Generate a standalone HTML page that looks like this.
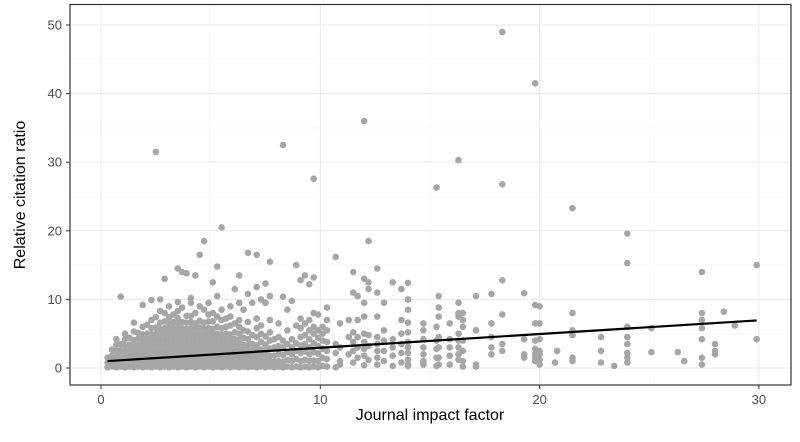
<!DOCTYPE html>
<html><head><meta charset="utf-8"><style>
body{margin:0;background:#fff;}
svg{display:block;font-family:"Liberation Sans",sans-serif;}
</style></head><body>
<svg id="chart" width="800" height="442" viewBox="0 0 800 442">
<rect x="0" y="0" width="800" height="442" fill="#fff"/>
<g id="grid"></g>
<g id="pts"></g>
<g id="fit"></g>
<rect x="70" y="4.5" width="721" height="380.5" fill="none" stroke="#333" stroke-width="1.2"/>
<g id="axes"></g>
<text x="430" y="420" text-anchor="middle" font-size="16" fill="#000">Journal impact factor</text>
<text transform="translate(25,195) rotate(-90)" text-anchor="middle" font-size="16" fill="#000">Relative citation ratio</text>
</svg>
<script>
const xTicks=[0,10,20,30];
const yTicks=[0,10,20,30,40,50];
const xMinor=[5,15,25];
const yMinor=[5,15,25,35,45];
const fitIntercept=0.95, fitSlope=0.2, fitRange=[0.3,29.9];
const impactFactor=[];
const citationRatio=[];
const cols=[
[0.3,[0.1,0.8,1.5]],
[0.5,[0.2,1.0,1.8,2.7]],
[0.7,[0.1,0.9,1.7,2.5,3.4,4.2]],
[0.9,[0.2,1.0,1.8,2.6,3.5,10.4]],
[1.1,[0.1,0.9,1.7,2.5,3.3,4.2,5.0]],
[1.3,[0.2,1.0,1.8,2.6,3.4,4.4]],
[1.5,[0.1,0.9,1.7,2.5,3.3,4.1,5.3,6.6]],
[1.7,[0.2,1.0,1.8,2.6,3.4,4.3,5.1]],
[1.9,[0.1,0.9,1.7,2.5,3.3,4.1,4.9,6.0,9.2]],
[2.1,[0.2,1.0,1.8,2.6,3.4,4.2,5.0,6.3]],
[2.3,[0.1,0.9,1.7,2.5,3.3,4.1,4.9,5.8,7.0,9.9]],
[2.5,[0.2,1.0,1.8,2.6,3.4,4.2,5.0,5.9,7.4,31.5]],
[2.7,[0.1,0.9,1.7,2.5,3.3,4.1,4.9,5.7,6.6,8.3,10.0]],
[2.9,[0.2,1.0,1.8,2.6,3.4,4.2,5.0,5.8,6.8,8.0,13.0]],
[3.1,[0.1,0.9,1.7,2.5,3.3,4.1,4.9,5.7,6.5,7.4,9.0]],
[3.3,[0.2,1.0,1.8,2.6,3.4,4.2,5.0,5.8,6.7,7.8]],
[3.5,[0.1,0.9,1.7,2.5,3.3,4.1,4.9,5.7,6.5,7.3,8.3,9.6,14.5]],
[3.7,[0.2,1.0,1.8,2.6,3.4,4.2,5.0,5.8,6.7,8.8,14.0]],
[3.9,[0.1,0.9,1.7,2.5,3.3,4.1,4.9,5.7,6.6,7.6,13.8]],
[4.1,[0.2,1.0,1.8,2.6,3.4,4.2,5.0,5.8,6.7,7.6,9.5,10.2]],
[4.3,[0.1,0.9,1.7,2.5,3.3,4.1,4.9,5.7,6.5,8.0,13.5]],
[4.5,[0.2,1.0,1.8,2.6,3.4,4.2,5.0,5.9,6.9,9.0,16.5]],
[4.7,[0.1,0.9,1.7,2.5,3.3,4.1,4.9,5.7,6.6,8.5,18.5]],
[4.9,[0.2,1.0,1.8,2.6,3.4,4.2,5.0,5.8,6.8,7.8,9.5]],
[5.1,[0.1,0.9,1.7,2.5,3.3,4.1,4.9,5.7,6.8,8.0,12.5]],
[5.3,[0.2,1.0,1.8,2.6,3.4,4.2,5.0,6.0,7.5,10.5,14.8]],
[5.5,[0.1,0.9,1.7,2.5,3.3,4.1,4.9,5.8,7.0,8.5,20.5]],
[5.7,[0.2,1.0,1.8,2.6,3.4,4.2,5.0,6.0,7.2]],
[5.9,[0.1,0.9,1.7,2.5,3.3,4.1,4.9,6.2,7.5,9.0]],
[6.1,[0.2,1.0,1.8,2.6,3.4,4.2,5.2,6.5,11.5]],
[6.3,[0.1,0.9,1.7,2.5,3.3,4.1,5.0,6.0,7.0,9.5,13.5]],
[6.5,[0.2,1.0,1.8,2.6,3.4,4.4,5.5,8.5]],
[6.7,[0.1,0.9,1.7,2.5,3.3,4.2,5.3,6.7,10.8,16.8]],
[6.9,[0.2,1.0,1.8,2.6,3.5,4.8,9.5]],
[7.1,[0.1,0.9,1.7,2.5,3.3,4.5,5.8,7.2,11.8,16.5]],
[7.3,[0.2,1.0,1.8,2.7,3.8,5.0,6.2,10.0]],
[7.5,[0.1,0.9,1.7,2.5,3.4,4.6,9.5,12.3]],
[7.7,[0.2,1.0,1.8,2.8,4.0,5.2,7.0,10.5,15.5]],
[7.9,[0.1,0.9,1.8,3.0,4.2]],
[8.1,[0.2,1.0,2.0,3.2,4.5,6.5]],
[8.3,[0.1,0.9,1.9,3.0,4.0,10.4,32.5]],
[8.5,[0.2,1.2,2.3,3.5,5.5,8.5]],
[8.7,[0.1,1.0,2.0,3.0,4.2,9.8]],
[8.9,[0.2,1.3,2.5,3.6,6.2,15.0]],
[9.1,[0.1,1.0,2.2,3.3,4.5,5.8,7.2,12.8]],
[9.3,[0.2,1.2,2.4,3.5,4.8,6.5,13.5]],
[9.5,[0.1,1.0,2.0,3.0,4.2,5.5,7.0,12.2]],
[9.7,[0.2,1.1,2.3,3.6,5.0,6.0,8.0,13.2,27.6]],
[9.9,[0.1,1.0,2.1,3.2,4.4,5.5,7.8]],
[10.1,[0.3,1.5,2.8,4.0,5.0,6.0]],
[10.3,[0.2,1.3,2.5,3.8,5.5,7.0,8.8]],
[10.7,[0.1,2.2,3.5,16.2]],
[10.9,[0.5,1.0,3.0,6.5]],
[11.3,[2.0,4.5,7.0]],
[11.5,[0.8,2.5,3.8,5.2,11.0,14.0]],
[11.7,[1.5,3.0,4.5,7.0,10.5]],
[12.0,[0.4,1.8,2.8,3.8,5.0,7.5,9.5,13.0,36.0]],
[12.2,[1.2,3.2,4.8,11.5,12.5,18.5]],
[12.6,[0.5,1.5,2.5,3.5,4.5,7.5,11.0,14.5]],
[12.9,[1.0,2.5,4.0,5.5,9.5]],
[13.3,[0.3,1.8,3.0,4.2,12.5]],
[13.7,[0.8,2.2,3.5,5.0,7.0,11.5]],
[14.0,[12.4,10.0,8.5,6.6,5.2,3.8,3.0,2.2,1.2,0.5,0.3]],
[14.7,[6.5,5.5,4.2,3.0,2.0,1.0,0.5]],
[15.3,[0.3,1.5,2.8,4.0,6.0,26.3]],
[15.4,[10.5,8.8,7.5,4.5,3.0,1.5,0.5]],
[15.9,[0.5,1.8,3.0,4.2,6.5]],
[16.3,[9.5,8.0,7.5,5.0,4.0,3.0,2.0,1.2,30.3]],
[16.5,[8.0,7.0,6.0,4.0,2.5,1.0,0.2]],
[17.1,[10.5,5.5,0.5,0.2]],
[17.8,[10.8,6.5,4.5,3.0,2.0]],
[18.3,[12.8,7.8,3.5,2.5,26.8,49.0]],
[19.3,[10.9,4.2,2.0,1.5]],
[19.8,[9.2,6.5,4.0,2.8,2.0,1.5,1.0,41.5]],
[20.0,[9.0,6.5,4.2,2.5,2.0,1.2,0.5]],
[20.7,[0.8]],[20.8,[2.5]],
[21.5,[8.0,5.5,4.8,1.5,1.0,23.3]],
[22.8,[4.5,2.5,0.8]],
[23.4,[0.3]],
[24.0,[19.6,15.3,6.0,4.5,3.5,2.2,1.5,0.8]],
[25.1,[5.8,2.3]],
[26.3,[2.3]],[26.6,[1.0]],
[27.4,[14.0,8.0,7.0,5.8,4.2,1.5,0.5]],
[28.0,[3.5,2.5,2.0]],
[28.4,[8.2]],[28.9,[6.2]],
[29.9,[15.0,4.2]]
];
cols.forEach(c=>c[1].forEach(v=>{impactFactor.push(c[0]);citationRatio.push(v);}));

const NS="http://www.w3.org/2000/svg";
const sx=v=>101+v*21.93;
const sy=v=>368-v*6.86;
const P={l:70,r:791,t:4.5,b:385};
function el(tag,attrs,parent){const e=document.createElementNS(NS,tag);for(const k in attrs)e.setAttribute(k,attrs[k]);parent.appendChild(e);return e;}
const grid=document.getElementById('grid');
xMinor.forEach(v=>{const l=el('line',{x1:sx(v),x2:sx(v),y1:P.t,y2:P.b,stroke:'#f2f2f2','stroke-width':0.6},grid);

});
yMinor.forEach(v=>{const l=el('line',{x1:P.l,x2:P.r,y1:sy(v),y2:sy(v),stroke:'#f2f2f2','stroke-width':0.6},grid);

});
xTicks.forEach(v=>{const l=el('line',{x1:sx(v),x2:sx(v),y1:P.t,y2:P.b,stroke:'#ebebeb','stroke-width':1.1},grid);

});
yTicks.forEach(v=>{const l=el('line',{x1:P.l,x2:P.r,y1:sy(v),y2:sy(v),stroke:'#ebebeb','stroke-width':1.1},grid);

});
const pts=document.getElementById('pts');
impactFactor.forEach((x,i)=>{const c=el('circle',{cx:sx(x).toFixed(1),cy:sy(citationRatio[i]).toFixed(1),r:3.3,fill:'#a6a6a6'},pts);

});
const fit=document.getElementById('fit');
const fl=el('line',{x1:sx(fitRange[0]),y1:sy(fitIntercept+fitSlope*fitRange[0]),x2:sx(fitRange[1]),y2:sy(fitIntercept+fitSlope*fitRange[1]),stroke:'#000','stroke-width':2.2},fit);


const axes=document.getElementById('axes');
xTicks.forEach(v=>{const t=el('line',{x1:sx(v),x2:sx(v),y1:P.b,y2:P.b+4,stroke:'#333','stroke-width':1},axes);


const tx=el('text',{x:sx(v),y:P.b+19,'text-anchor':'middle','font-size':13,fill:'#4d4d4d'},axes);
tx.textContent=v;

});
yTicks.forEach(v=>{const t=el('line',{x1:P.l-4,x2:P.l,y1:sy(v),y2:sy(v),stroke:'#333','stroke-width':1},axes);


const tx=el('text',{x:P.l-8,y:sy(v)+4.5,'text-anchor':'end','font-size':13,fill:'#4d4d4d'},axes);
tx.textContent=v;

});
</script>
</body></html>
